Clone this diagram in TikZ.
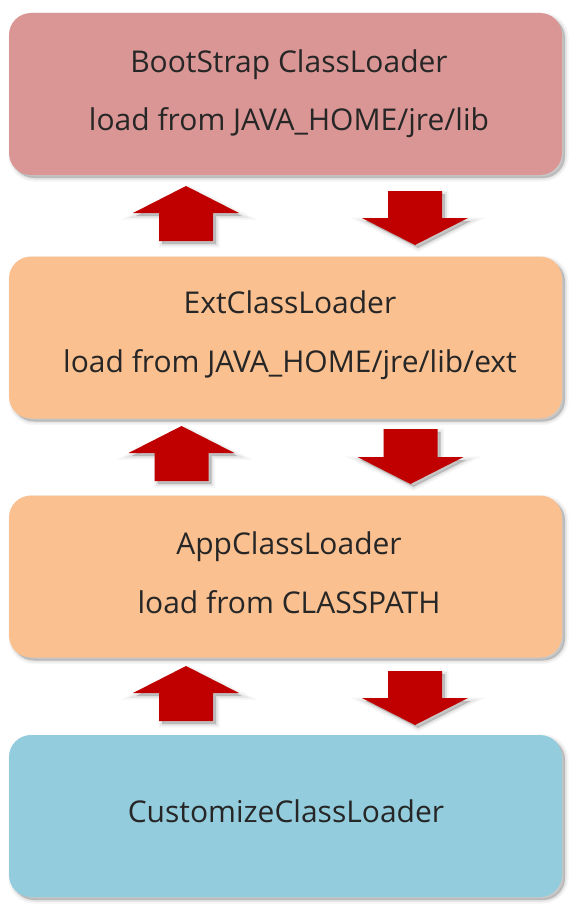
\documentclass[tikz,border=0pt]{standalone}
\usepackage{fontspec}
\setmainfont{Open Sans}
\definecolor{bootpink}{RGB}{217,150,148}
\definecolor{extorange}{RGB}{250,192,144}
\definecolor{custblue}{RGB}{147,205,221}
\definecolor{arrred}{RGB}{192,0,0}
\definecolor{txtgray}{RGB}{38,38,38}
\tikzset{
  softshadow/.style={
    preaction={fill=black,draw=black,opacity=0.04,line width=7pt,transform canvas={shift={(3pt,-3pt)}}},
    preaction={fill=black,draw=black,opacity=0.06,line width=3.5pt,transform canvas={shift={(3pt,-3pt)}}},
    preaction={fill=black,opacity=0.10,transform canvas={shift={(3pt,-3pt)}}}},
  loaderbox/.style={softshadow,rectangle,rounded corners=22pt,draw=none,
    minimum width=553pt,minimum height=162pt,inner sep=0pt},
  loadertext/.style={anchor=base,text=txtgray,font=\fontsize{30}{35}\selectfont,inner sep=0pt},
  blockarrow/.style={softshadow,fill=arrred,draw=none}
}
% up arrow: cx, tip y, head base y, bottom y
\newcommand\uarr[4]{%
  \fill[blockarrow] (#1,#2) -- (#1+53,#3) -- (#1+27,#3) -- (#1+27,#4)
    -- (#1-27,#4) -- (#1-27,#3) -- (#1-53,#3) -- cycle;}
% down arrow: cx, top y, head base y, tip y
\newcommand\darr[4]{%
  \fill[blockarrow] (#1-27,#2) -- (#1+27,#2) -- (#1+27,#3) -- (#1+53,#3)
    -- (#1,#4) -- (#1-53,#3) -- (#1-27,#3) -- cycle;}
\begin{document}
\begin{tikzpicture}[x=1pt,y=-1pt]
\useasboundingbox (0,0) rectangle (583,907);
\fill[white] (0,0) rectangle (583,907);

\node[loaderbox,fill=bootpink]  (boot) at (285.5,94) {};
\node[loaderbox,fill=extorange] (ext)  at (285.5,337.5) {};
\node[loaderbox,fill=extorange] (app)  at (285.5,576.5) {};
\node[loaderbox,fill=custblue]  (cust) at (285.5,816) {};

\node[loadertext] (bootA) at (289,72) {BootStrap ClassLoader};
\node[loadertext] (bootB) at (289,130) {load from JAVA\_HOME/jre/lib};
\node[loadertext] (extA)  at (290,313) {ExtClassLoader};
\node[loadertext] (extB)  at (290,372) {load from JAVA\_HOME/jre/lib/ext};
\node[loadertext] (appA)  at (289,554) {AppClassLoader};
\node[loadertext] (appB)  at (289,613) {load from CLASSPATH};
\node[loadertext] (custA) at (286,822) {CustomizeClassLoader};

\uarr{186}{186}{213}{241}
\darr{415}{191}{218}{245}
\uarr{181.5}{426}{453}{481}
\darr{410.5}{429}{457}{484}
\uarr{186}{666}{693}{721}
\darr{415}{671}{698}{725}
\end{tikzpicture}
\end{document}
